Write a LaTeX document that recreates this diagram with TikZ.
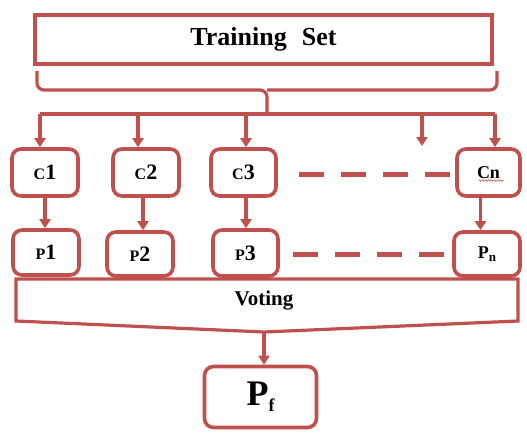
\documentclass[tikz,border=0pt]{standalone}
\usepackage{fontspec}
\setmainfont{Liberation Serif}
\usetikzlibrary{arrows.meta,decorations.pathmorphing}
\definecolor{bred}{HTML}{C0504D}
\newcommand{\smc}[2]{{\fontsize{16}{16}\selectfont #1}{\fontsize{22}{22}\selectfont #2}}
\begin{document}
\begin{tikzpicture}[x=1pt,y=-1pt,
  box/.style={draw=bred,line width=3.6pt,rounded corners=9pt,fill=white,inner sep=0pt,font=\bfseries},
  tbox/.style={draw=bred,line width=3.6pt,fill=white,inner sep=0pt,font=\bfseries},
  conn/.style={draw=bred,line width=3.2pt},
  arr/.style={conn,-{Triangle[length=9pt,width=11pt]}},
  dsh/.style={draw=bred,line width=5pt,dash pattern=on 25pt off 17pt}]
\useasboundingbox (0,0) rectangle (527,432);
% training set
\node[tbox,minimum width=457pt,minimum height=49pt] (ts) at (263.5,39.5)
  {\fontsize{26}{26}\selectfont Training\,\, Set};
% brace
\draw[conn,rounded corners=7pt] (37,71) -- (37,90) -- (267,90) -- (267,112);
\draw[conn,rounded corners=7pt] (497,71) -- (497,90) -- (267,90);
% distribution line
\coordinate (d1) at (40,114);
\coordinate (d2) at (138,114);
\coordinate (d3) at (246,114);
\coordinate (d4) at (422,114);
\coordinate (d5) at (495,114);
\draw[conn] (d1) -- (d5);
% C boxes
\node[box,minimum width=66pt,minimum height=47pt] (c1) at (45,172.5) {\smc{C}{1}};
\node[box,minimum width=66pt,minimum height=47pt] (c2) at (146,172.5) {\smc{C}{2}};
\node[box,minimum width=65pt,minimum height=47pt] (c3) at (243.5,172.5) {\smc{C}{3}};
\node[box,minimum width=63pt,minimum height=47pt] (cn) at (488.5,172.5) {\fontsize{18}{18}\selectfont Cn};
\draw[bred,line width=0.6pt,decorate,decoration={snake,amplitude=0.8pt,segment length=3pt}]
  ([xshift=-10pt,yshift=-8pt]cn.center) -- ([xshift=15pt,yshift=-8pt]cn.center);
\coordinate (e4) at (422,146);
\draw[arr] (d1) -- (d1 |- c1.north);
\draw[arr] (d2) -- (d2 |- c2.north);
\draw[arr] (d3) -- (d3 |- c3.north);
\draw[arr] (d4) -- (e4);
\draw[arr] (d5) -- (d5 |- cn.north);
% dashes C row
\coordinate (ca) at (299,174);
\coordinate (cb) at (450,174);
\draw[dsh] (ca) -- (cb);
% P boxes
\node[box,minimum width=66pt,minimum height=45pt] (p1) at (46,252.5) {\smc{P}{1}};
\node[box,minimum width=66pt,minimum height=44pt] (p2) at (140,254) {\smc{P}{2}};
\node[box,minimum width=65pt,minimum height=46pt] (p3) at (245.5,253) {\smc{P}{3}};
\node[box,minimum width=66pt,minimum height=44pt] (pn) at (487,254)
  {\fontsize{18}{18}\selectfont P\raisebox{-3pt}{\fontsize{13}{13}\selectfont n}};
\draw[arr] (c1.south) -- (c1.south |- p1.north);
\draw[arr] ([xshift=-3pt]c2.south) -- ([xshift=-3pt]c2.south |- p2.north);
\draw[arr] ([xshift=2.5pt]c3.south) -- ([xshift=2.5pt]c3.south |- p3.north);
\draw[arr] ([xshift=-8pt]cn.south) -- ([xshift=-8pt]cn.south |- pn.north);
% dashes P row
\coordinate (pa) at (293,254);
\coordinate (pb) at (444,254);
\draw[dsh] (pa) -- (pb);
% voting
\draw[conn,fill=white] (16,279) -- (518,279) -- (518,321) -- (264,332) -- (16,321) -- cycle;
\node[font=\bfseries] (vote) at (264,301) {\fontsize{21}{21}\selectfont Voting};
\coordinate (vtip) at (264,332);
% final
\node[box,minimum width=112pt,minimum height=61pt] (pf) at (260.5,397)
  {\fontsize{36}{36}\selectfont P\raisebox{-6pt}{\fontsize{18}{18}\selectfont f}};
\draw[arr] (vtip) -- (vtip |- pf.north);
\end{tikzpicture}
\end{document}
